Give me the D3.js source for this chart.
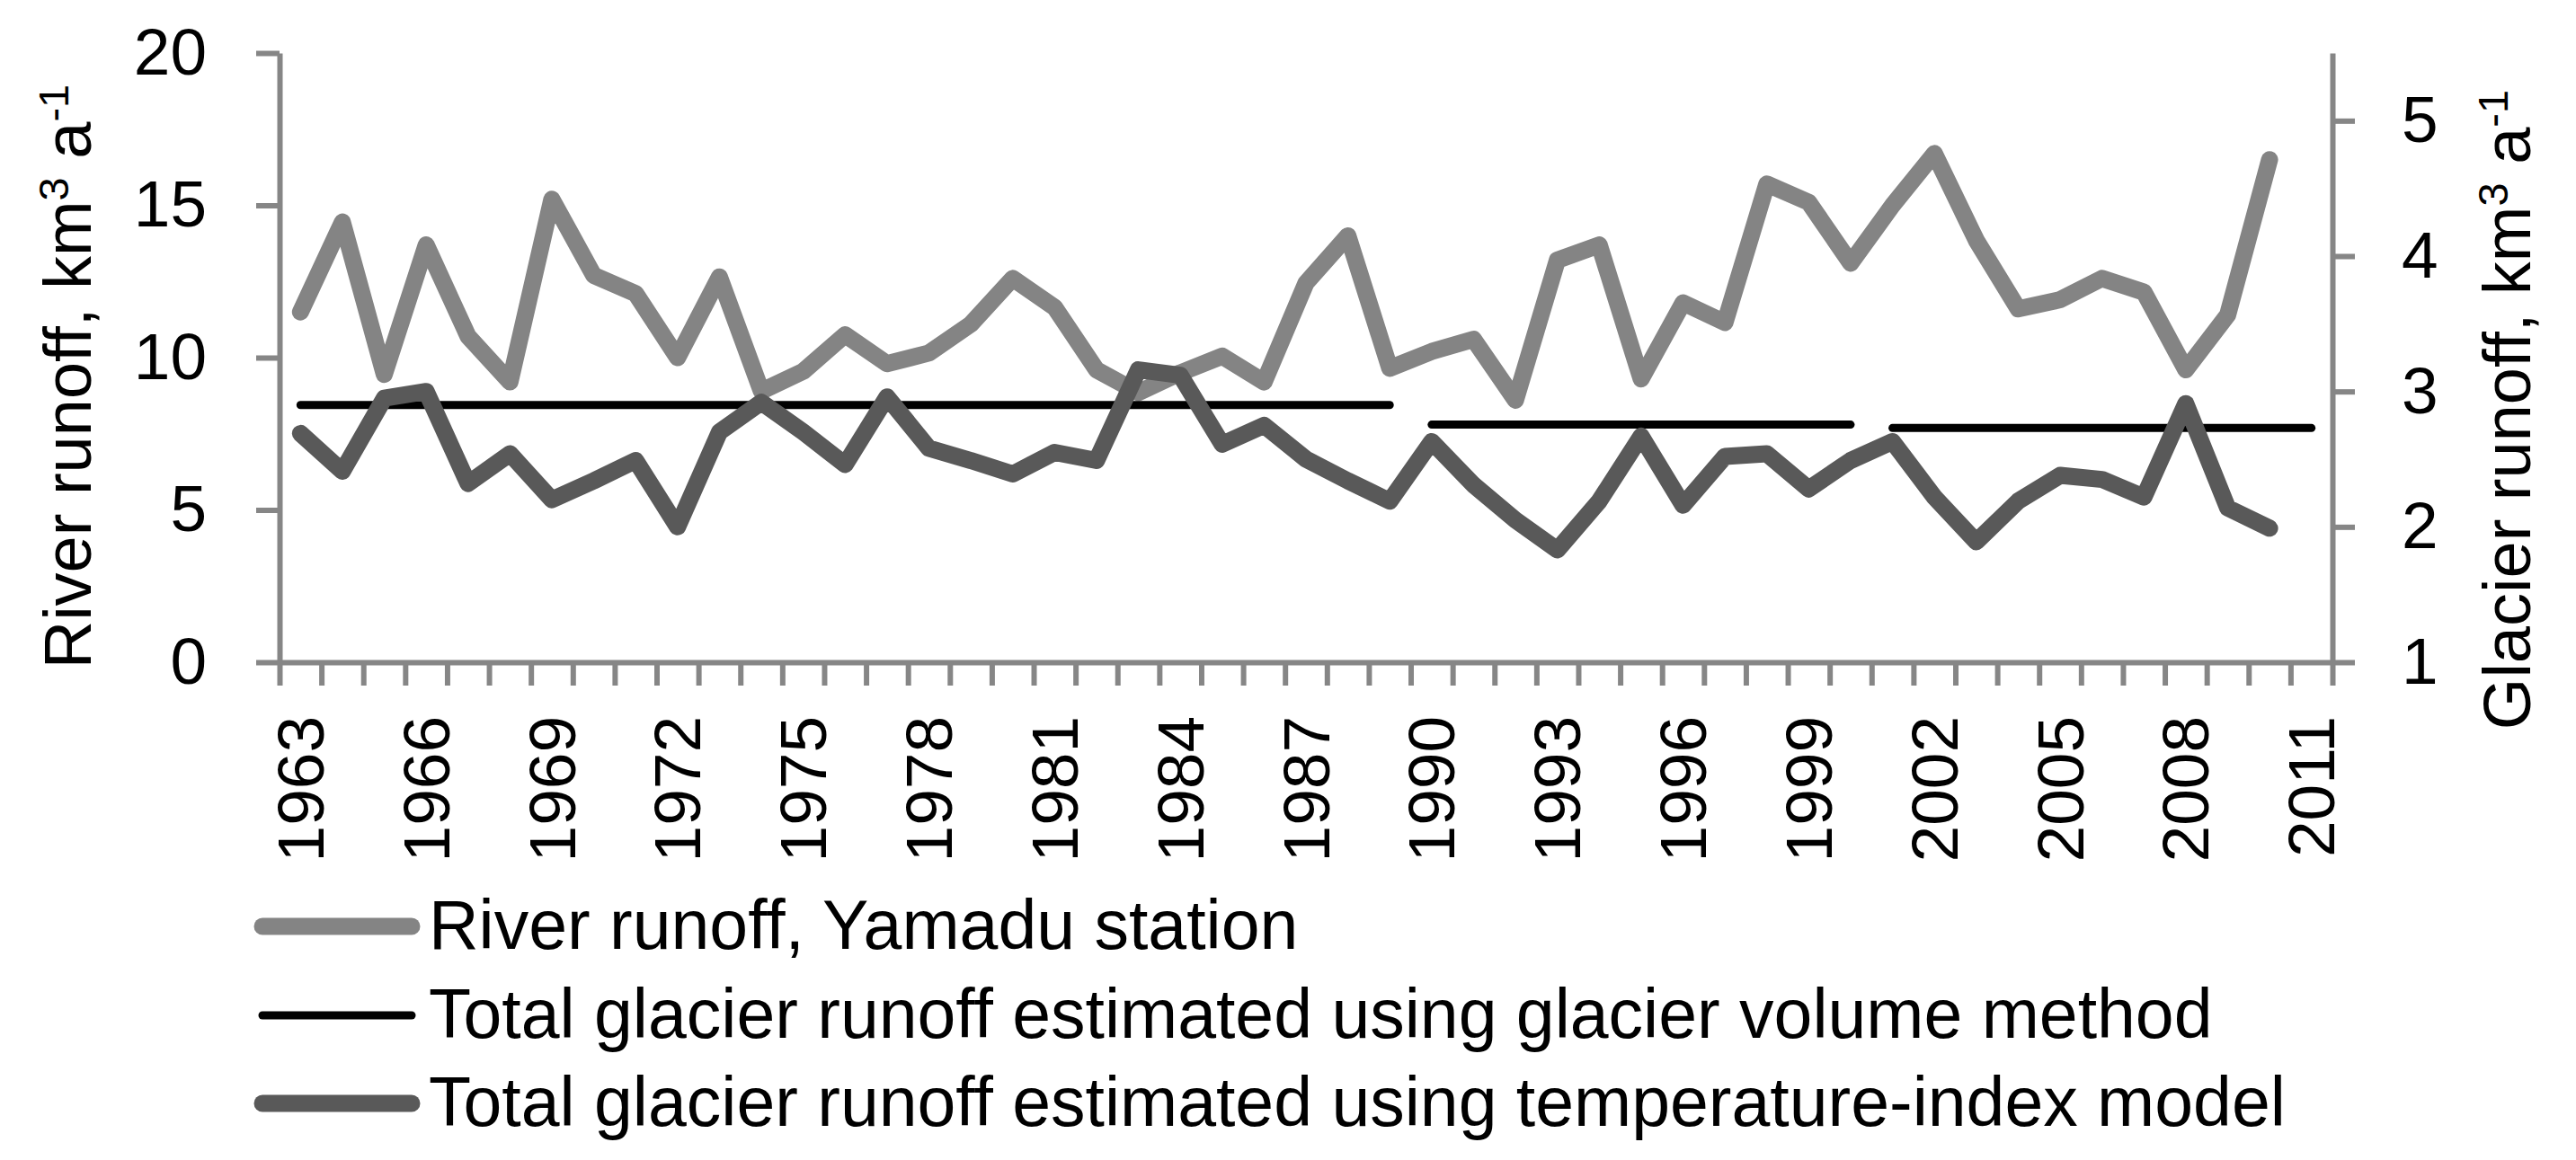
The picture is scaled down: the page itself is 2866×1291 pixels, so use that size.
<!DOCTYPE html>
<html>
<head>
<meta charset="utf-8">
<script src="https://cdn.jsdelivr.net/npm/d3@7"></script>
<style>
    body { margin: 0; background: #fff; }
    text { font-family: "Liberation Sans", Arial, sans-serif; fill: #000; }
</style>
</head>
<body>
<div id="chart"></div>
<script>
// ---------------- data ----------------
var years = d3.range(1963, 2012);   // categories 1963 .. 2011
var labelYears = years.filter(function (d) { return (d - 1963) % 3 == 0; });

// river runoff, Yamadu station (km3 a-1, left axis), 1963..2010
var riverRunoff = [11.5, 14.45, 9.45, 13.7, 10.7, 9.2, 15.2, 12.7, 12.1, 10.0,
    12.65, 8.9, 9.55, 10.75, 9.8, 10.15, 11.1, 12.6, 11.65, 9.6,
    8.85, 9.5, 10.05, 9.2, 12.45, 14.0, 9.65, 10.2, 10.6, 8.6,
    13.2, 13.7, 9.3, 11.8, 11.15, 15.7, 15.1, 13.1, 15.0, 16.7,
    13.85, 11.6, 11.9, 12.6, 12.15, 9.6, 11.4, 16.5];

// temperature-index model (km3 a-1, right axis), 1963..2010
var tempIndex = [2.69, 2.41, 2.95, 3.0, 2.32, 2.54, 2.2, 2.34, 2.49, 2.0,
    2.7, 2.92, 2.7, 2.46, 2.96, 2.58, 2.49, 2.39, 2.55, 2.49,
    3.16, 3.12, 2.61, 2.75, 2.5, 2.34, 2.19, 2.63, 2.31, 2.05,
    1.83, 2.19, 2.67, 2.16, 2.52, 2.54, 2.28, 2.49, 2.63, 2.22,
    1.89, 2.19, 2.38, 2.35, 2.22, 2.91, 2.14, 1.99];

// glacier volume method: three period means (right axis)
var volumeStart = [1963, 1990, 2001];
var volumeEnd = [1989, 2000, 2011];
var volumeValue = [2.9, 2.755, 2.73];

var leftTicks = [0, 5, 10, 15, 20];
var rightTicks = [1, 2, 3, 4, 5];

var legendLabels = ["River runoff, Yamadu station",
    "Total glacier runoff estimated using glacier volume method",
    "Total glacier runoff estimated using temperature-index model"];

// ---------------- layout ----------------
var W = 2866, H = 1291;
var plotLeft = 311, plotRight = 2595, plotTop = 59, plotBottom = 737;
var axisColor = "#868686";
var lightGrey = "#848484", darkGrey = "#595959";
var tickFont = 73;

var svg = d3.select("#chart").append("svg")
    .attr("width", W)
    .attr("height", H)
    .style("display", "block");

svg.append("rect").attr("width", W).attr("height", H).attr("fill", "#fff");

// scales
var x = d3.scaleBand().domain(years).range([plotLeft, plotRight]).padding(0);
var xc = function (yr) { return x(yr) + x.bandwidth() / 2; };
var xEdge = d3.scaleLinear().domain([0, years.length]).range([plotLeft, plotRight]);
var yL = d3.scaleLinear().domain([0, 20]).range([plotBottom, plotTop]);
var yR = d3.scaleLinear().domain([1, 5.5]).range([plotBottom, plotTop]);

function styleAxis(g) {
    g.select(".domain").attr("stroke", axisColor).attr("stroke-width", 6);
    g.selectAll(".tick line").attr("stroke", axisColor).attr("stroke-width", 6);
    g.selectAll("text").style("font-size", tickFont + "px").attr("fill", "#000");
}

// x axis: tick marks at category edges
var gxTicks = svg.append("g")
    .attr("transform", "translate(0," + plotBottom + ")")
    .call(d3.axisBottom(xEdge).tickValues(d3.range(years.length + 1))
        .tickFormat("").tickSize(26).tickSizeOuter(0));
styleAxis(gxTicks);

// x labels every third year, rotated
var gxLabels = svg.append("g")
    .attr("transform", "translate(0," + plotBottom + ")")
    .call(d3.axisBottom(x).tickValues(labelYears).tickSize(0).tickSizeOuter(0));
gxLabels.select(".domain").remove();
gxLabels.selectAll("text")
    .style("font-size", tickFont + "px")
    .attr("fill", "#000")
    .attr("transform", "rotate(-90)")
    .attr("text-anchor", "end")
    .attr("x", -60)
    .attr("y", 0)
    .attr("dy", "0.35em");

// left axis
var gyL = svg.append("g")
    .attr("transform", "translate(" + plotLeft + ",0)")
    .call(d3.axisLeft(yL).tickValues(leftTicks).tickFormat(d3.format("d"))
        .tickSize(26).tickSizeOuter(0).tickPadding(55));
styleAxis(gyL);

// right axis
var gyR = svg.append("g")
    .attr("transform", "translate(" + plotRight + ",0)")
    .call(d3.axisRight(yR).tickValues(rightTicks).tickFormat(d3.format("d"))
        .tickSize(25).tickSizeOuter(0).tickPadding(52));
styleAxis(gyR);

// axis titles with superscripts
function axisTitle(tx, ty, main) {
    var t = svg.append("text")
        .attr("transform", "translate(" + tx + "," + ty + ") rotate(-90)")
        .attr("text-anchor", "middle")
        .style("font-size", "74px");
    t.append("tspan").text(main);
    t.append("tspan").attr("dy", -25).style("font-size", "47px").text("3");
    t.append("tspan").attr("dy", 25).text(" a");
    t.append("tspan").attr("dy", -25).style("font-size", "47px").text("-1");
}
axisTitle(101, 419, "River runoff, km");
axisTitle(2815, 456, "Glacier runoff, km");

// ---------------- lines ----------------
var riverLine = d3.line()
    .defined(function (d) { return d != null; })
    .x(function (d, i) { return xc(years[i]); })
    .y(function (d) { return yL(d); });

var tempLine = d3.line()
    .x(function (d, i) { return xc(years[i]); })
    .y(function (d) { return yR(d); });

svg.append("path")
    .attr("d", riverLine(riverRunoff))
    .attr("fill", "none")
    .attr("stroke", lightGrey)
    .attr("stroke-width", 19)
    .attr("stroke-linejoin", "round")
    .attr("stroke-linecap", "round");

// glacier volume method segments
for (let i = 0; i < volumeStart.length; i++) {
    var seg = [[volumeStart[i], volumeValue[i]], [volumeEnd[i], volumeValue[i]]];
    svg.append("path")
        .attr("d", d3.line()
            .x(function (d) { return xc(d[0]); })
            .y(function (d) { return yR(d[1]); })(seg))
        .attr("fill", "none")
        .attr("stroke", "#000")
        .attr("stroke-width", 9)
        .attr("stroke-linecap", "round");
}

svg.append("path")
    .attr("d", tempLine(tempIndex))
    .attr("fill", "none")
    .attr("stroke", darkGrey)
    .attr("stroke-width", 19)
    .attr("stroke-linejoin", "round")
    .attr("stroke-linecap", "round");

// ---------------- legend ----------------
var legendColors = [lightGrey, "#000", darkGrey];
var legendWidths = [19, 9, 19];
var legendY = [1031, 1130, 1228];

for (let i = 0; i < legendLabels.length; i++) {
    svg.append("line")
        .attr("x1", 292).attr("x2", 458)
        .attr("y1", legendY[i]).attr("y2", legendY[i])
        .attr("stroke", legendColors[i])
        .attr("stroke-width", legendWidths[i])
        .attr("stroke-linecap", "round");

    svg.append("text")
        .attr("x", 477)
        .attr("y", legendY[i] + 25)
        .style("font-size", "77px")
        .text(legendLabels[i]);
}
</script>
</body>
</html>
